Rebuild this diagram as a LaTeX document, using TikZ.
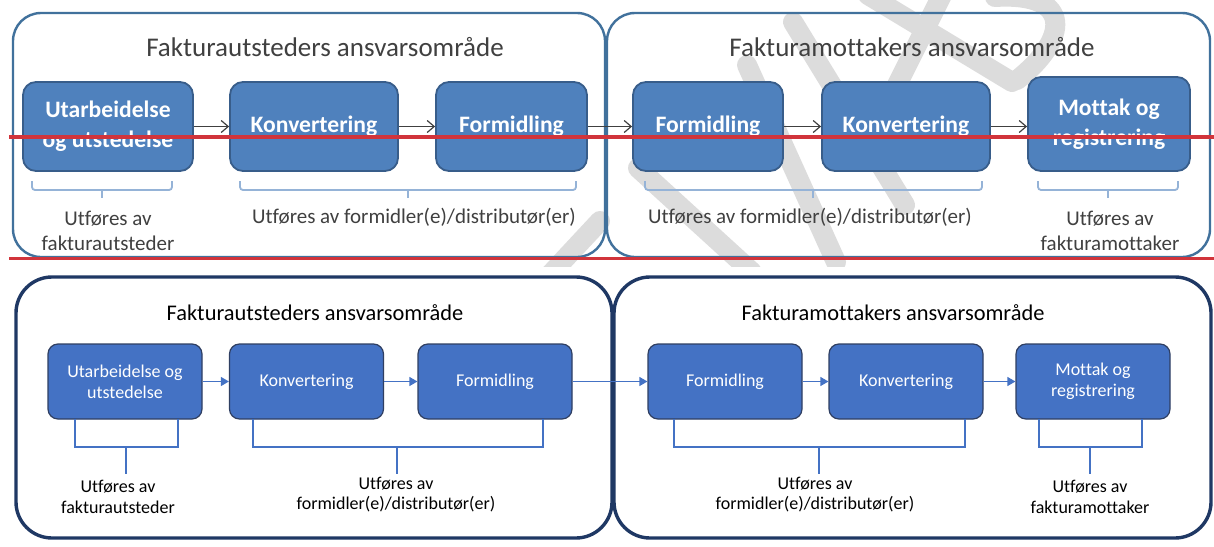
\documentclass[tikz,border=0pt]{standalone}
\usepackage{fontspec}
\setmainfont{Carlito}[Ligatures={NoCommon,NoContextual}, Contextuals=NoAlternate]
\usetikzlibrary{arrows.meta}

\definecolor{oldblue}{HTML}{4F81BD}
\definecolor{oldedge}{HTML}{385D8A}
\definecolor{oldframe}{HTML}{41719C}
\definecolor{oldbrace}{HTML}{95B3D7}
\definecolor{oldtext}{HTML}{404040}
\definecolor{newblue}{HTML}{4472C4}
\definecolor{newedge}{HTML}{2F3F62}
\definecolor{newframe}{HTML}{1F3864}
\definecolor{markred}{HTML}{D1343B}
\definecolor{wmgrey}{HTML}{DCDCDC}

\begin{document}
\begin{tikzpicture}[x=0.5pt, y=-0.5pt,
    oldarea/.style={draw=oldframe, line width=1.2pt, rounded corners=14pt, inner sep=0pt},
    oldbox/.style={draw=oldedge, line width=0.9pt, fill=oldblue, rounded corners=6.5pt,
        text=white, font=\fontsize{11.8}{15}\selectfont\bfseries, align=center,
        minimum height=44.5pt, inner sep=0pt},
    oldtitle/.style={text=oldtext, font=\fontsize{13.5}{16}\selectfont, inner sep=0pt},
    oldnote/.style={text=oldtext, font=\fontsize{10.5}{12.5}\selectfont, align=center, inner sep=0pt},
    oldarrow/.style={draw=oldtext, line width=0.6pt, -{Straight Barb[length=3.5pt,width=6pt]}},
    oldbrace/.style={draw=oldbrace, line width=0.9pt, rounded corners=1.5pt},
    newarea/.style={draw=newframe, line width=1.7pt, rounded corners=18pt, inner sep=0pt},
    newbox/.style={draw=newedge, line width=0.6pt, fill=newblue, rounded corners=5pt,
        text=white, font=\fontsize{9}{10.5}\selectfont, align=center,
        minimum width=77pt, minimum height=37.5pt, inner sep=0pt},
    newtitle/.style={font=\fontsize{11.2}{13}\selectfont, inner sep=0pt},
    newnote/.style={font=\fontsize{9}{10.4}\selectfont, align=center, inner sep=0pt},
    newarrow/.style={draw=newblue, line width=0.6pt, -{Triangle[length=4pt,width=4.5pt]}},
    newbrace/.style={draw=newblue, line width=0.55pt},
    wmark/.style={draw=wmgrey, line width=10pt, line cap=round}
]
    \fill[white] (0,0) rectangle (1214,546);
    \useasboundingbox (0,0) rectangle (1214,546);

    % --- Vannmerke bak den gamle figuren ---
    \begin{scope}
        \clip (0,0) rectangle (1214,266);
        \draw[wmark] (545,280) -- (600,221);
        \draw[wmark] (638,168) -- (752,272);
        \draw[wmark] (747,65) -- (836,262);
        \draw[wmark] (793,22) -- (905,205);
        \draw[wmark] (868,-5) -- (1012,82);
        \draw[wmark] (942,-5) -- (893,93);
        \draw[wmark] (995,-3) .. controls (1075,-8) and (1068,40) .. (1017,80);
    \end{scope}

    % --- Gammel figur: ansvarsområder ---
    \node[oldarea, minimum width=296pt, minimum height=122pt] (oldA) at (309,135) {};
    \node[oldarea, minimum width=301.5pt, minimum height=122pt] (oldB) at (908.5,135) {};
    \node[oldtitle] (oldtA) at (325,47) {Fakturautsteders ansvarsområde};
    \node[oldtitle] (oldtB) at (912,47) {Fakturamottakers ansvarsområde};

    % --- Gammel figur: prosessteg ---
    \node[oldbox, minimum width=85pt] (t1) at (108,126.5) {Utarbeidelse\\og utstedelse};
    \node[oldbox, minimum width=84pt] (t2) at (314,126.5) {Konvertering};
    \node[oldbox, minimum width=75.5pt] (t3) at (511.5,126.5) {Formidling};
    \node[oldbox, minimum width=75pt] (t4) at (708,126.5) {Formidling};
    \node[oldbox, minimum width=84pt] (t5) at (906,126.5) {Konvertering};
    \node[oldbox, minimum width=81pt, minimum height=47pt] (t6) at (1109,124) {Mottak og\\registrering};

    \draw[oldarrow] (t1) -- (t2);
    \draw[oldarrow] (t2) -- (t3);
    \draw[oldarrow] (t3) -- (t4);
    \draw[oldarrow] (t4) -- (t5);
    \draw[oldarrow] (t5.east) -- (t5.east -| t6.west);

    % --- Gammel figur: hvem utfører ---
    \draw[oldbrace] (32,181) |- (172,190) -- (172,181);
    \draw[oldbrace] (102,190) -- (102,198);
    \draw[oldbrace] (240,181) |- (576,190) -- (576,181);
    \draw[oldbrace] (408,190) -- (408,198);
    \draw[oldbrace] (645,181) |- (982,190) -- (982,181);
    \draw[oldbrace] (813,190) -- (813,198);
    \draw[oldbrace] (1038,181) |- (1178,190) -- (1178,181);
    \draw[oldbrace] (1108,190) -- (1108,198);

    \node[oldnote] (tn1) at (108,230.5) {Utføres av\\fakturautsteder};
    \node[oldnote] (tn2) at (414,217) {Utføres av formidler(e)/distributør(er)};
    \node[oldnote] (tn3) at (810,217) {Utføres av formidler(e)/distributør(er)};
    \node[oldnote] (tn4) at (1110,230.5) {Utføres av\\fakturamottaker};

    % --- Røde markeringslinjer ---
    \draw[markred, line width=2.2pt] (9,137) -- (1214,137);
    \draw[markred, line width=1.3pt] (9,258.5) -- (1214,258.5);

    % --- Ny figur: ansvarsområder ---
    \node[newarea, minimum width=298pt, minimum height=130.5pt] (newA) at (314,407.5) {};
    \node[newarea, minimum width=298.5pt, minimum height=130.5pt] (newB) at (912.5,407.5) {};
    \node[newtitle] (newtA) at (315,313) {Fakturautsteders ansvarsområde};
    \node[newtitle] (newtB) at (893,313) {Fakturamottakers ansvarsområde};

    % --- Ny figur: prosessteg ---
    \node[newbox] (b1) at (125,381.5) {Utarbeidelse og\\utstedelse};
    \node[newbox] (b2) at (306.5,381.5) {Konvertering};
    \node[newbox] (b3) at (495,381.5) {Formidling};
    \node[newbox] (b4) at (725,381.5) {Formidling};
    \node[newbox] (b5) at (906,381.5) {Konvertering};
    \node[newbox] (b6) at (1093,381.5) {Mottak og\\registrering};

    \draw[newarrow] (b1) -- (b2);
    \draw[newarrow] (b2) -- (b3);
    \draw[newarrow] (b3) -- (b4);
    \draw[newarrow] (b4) -- (b5);
    \draw[newarrow] (b5) -- (b6);

    % --- Ny figur: hvem utfører ---
    \draw[newbrace] (75,419) |- (178,447) -- (178,419);
    \draw[newbrace] (126,447) -- (126,474);
    \draw[newbrace] (253,419) |- (543,447) -- (543,419);
    \draw[newbrace] (397,447) -- (397,474);
    \draw[newbrace] (674,419) |- (965,447) -- (965,419);
    \draw[newbrace] (819,447) -- (819,474);
    \draw[newbrace] (1039,419) |- (1142,447) -- (1142,419);
    \draw[newbrace] (1090,447) -- (1090,474);

    \node[newnote] (bn1) at (118,497) {Utføres av\\fakturautsteder};
    \node[newnote] (bn2) at (396,494.5) {Utføres av\\formidler(e)/distributør(er)};
    \node[newnote] (bn3) at (815,494.5) {Utføres av\\formidler(e)/distributør(er)};
    \node[newnote] (bn4) at (1090,497) {Utføres av\\fakturamottaker};
\end{tikzpicture}
\end{document}
